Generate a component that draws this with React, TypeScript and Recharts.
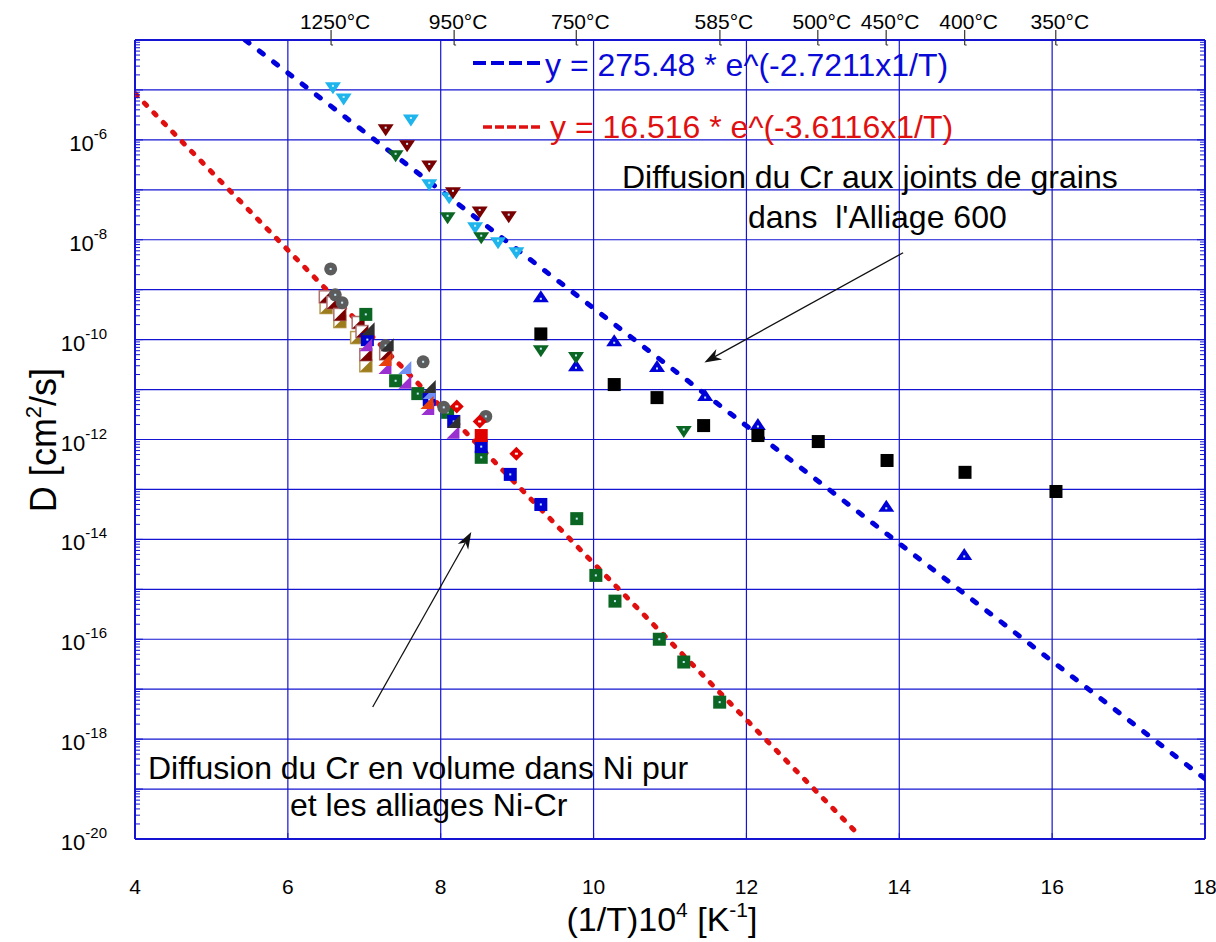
import React from "react";
import { ScatterChart, Scatter, XAxis, YAxis, ReferenceLine } from "recharts";

const FONT = "'Liberation Sans', Arial, Helvetica, sans-serif";
const W = 1216;
const H = 942;
const AXIS_BLUE = "#1414d2";

// axes
const xTicks = [4, 6, 8, 10, 12, 14, 16, 18];
const xGridLines = [6, 8, 10, 12, 14, 16];
const decades = [-20, -19, -18, -17, -16, -15, -14, -13, -12, -11, -10, -9, -8, -7, -6, -5, -4];
const labelledDecades = [-20, -18, -16, -14, -12, -10, -8, -6];
const mantissas = [1, 2, 3, 4, 5, 6, 7, 8, 9];
const tempLabelsC = [1250, 950, 750, 585, 500, 450, 400, 350];

// Joints de grains (Alliage 600)
const gbCyanX = [6.59, 6.73, 7.61, 7.85, 8.11, 8.45, 8.75, 8.99];
const gbCyanY = [1.1e-5, 6.6e-6, 2.5e-6, 1.26e-7, 6.9e-8, 1.74e-8, 8.7e-9, 5.5e-9];
const gbDarkRedX = [7.28, 7.56, 7.85, 8.16, 8.51, 8.89];
const gbDarkRedY = [1.6e-6, 7.6e-7, 3.0e-7, 8.7e-8, 3.6e-8, 2.9e-8];
const gbGreenX = [7.41, 8.09, 8.53, 9.31, 9.77, 11.18];
const gbGreenY = [4.8e-7, 2.75e-8, 1.1e-8, 6.0e-11, 4.4e-11, 1.45e-12];
const gbBlueX = [9.31, 9.77, 10.27, 10.83, 11.46, 12.15, 13.83, 14.85];
const gbBlueY = [7.2e-10, 3.0e-11, 9.5e-11, 2.9e-11, 7.6e-12, 2.0e-12, 4.6e-14, 5.0e-15];
const gbBlackX = [9.31, 10.27, 10.83, 11.44, 12.15, 12.94, 13.84, 14.86, 16.05];
const gbBlackY = [1.3e-10, 1.26e-11, 6.9e-12, 1.9e-12, 1.2e-12, 9.1e-13, 3.8e-13, 2.2e-13, 9.1e-14];

// Volume (Ni pur et alliages Ni-Cr)
const volOliveX = [6.5, 6.68, 6.9, 7.02];
const volOliveY = [4.4e-10, 2.3e-10, 1.1e-10, 3.0e-11];
const volDarkRedX = [6.49, 6.59, 6.68, 6.92, 6.97, 7.02, 7.28];
const volDarkRedY = [7.2e-10, 5.5e-10, 3.2e-10, 2.2e-10, 1.45e-10, 5.0e-11, 5.2e-11];
const volGreyX = [6.56, 6.62, 6.71, 7.28, 7.77, 8.04, 8.59];
const volGreyY = [2.6e-9, 7.9e-10, 5.5e-10, 7.6e-11, 3.6e-11, 4.4e-12, 2.9e-12];
const volGreenX = [7.02, 7.41, 7.7, 8.09, 8.53, 9.78, 10.03, 10.28, 10.86, 11.18, 11.65];
const volGreenY = [3.2e-10, 1.5e-11, 8.3e-12, 3.5e-12, 4.4e-13, 2.6e-14, 1.9e-15, 5.8e-16, 1.0e-16, 3.5e-17, 5.5e-18];
const volBlueX = [7.04, 7.85, 8.17, 8.53, 8.91, 9.31];
const volBlueY = [1.0e-10, 6.3e-12, 2.3e-12, 7.2e-13, 2.0e-13, 5.0e-14];
const volPurpleX = [7.02, 7.27, 7.53, 7.83, 8.16];
const volPurpleY = [7.9e-11, 2.75e-11, 1.4e-11, 4.2e-12, 1.4e-12];
const volCornflowerX = [7.53, 7.85];
const volCornflowerY = [2.75e-11, 8.7e-12];
const volOrangeX = [7.27, 7.82];
const volOrangeY = [4.0e-11, 5.5e-12];
const volDarkGreyX = [7.05, 7.3, 7.85, 8.17];
const volDarkGreyY = [1.66e-10, 7.9e-11, 1.15e-11, 2.3e-12];
const volRedSqX = [8.53];
const volRedSqY = [1.2e-12];
const volRedDiamondX = [8.21, 8.51, 8.99];
const volRedDiamondY = [4.6e-12, 2.3e-12, 5.2e-13];

// fits (end points read on the plot)
const blueFitX = [5.44, 18];
const blueFitY = [1e-4, 1.6e-19];
const redFitX = [4, 13.45];
const redFitY = [8.5e-6, 1.3e-20];

// arrows: [from, to]
const arrowGbX = [14.05, 11.45];
const arrowGbY = [5.5e-9, 3.5e-11];
const arrowVolX = [7.11, 8.4];
const arrowVolY = [4.4e-18, 1.4e-14];

const pts = (xs: number[], ys: number[]) => xs.map((x, i) => ({ x, y: ys[i] }));

const yTickValues = decades.flatMap((e) =>
  e === -4 ? [Math.pow(10, e)] : mantissas.map((m) => m * Math.pow(10, e))
);
const tempPositions = tempLabelsC.map((t) => 1e4 / (t + 273.15));

// ---- marker shapes
const centreDot = (cx: number, cy: number) => (
  <rect x={cx - 1} y={cy - 1} width={2} height={2} fill="#c8ecff" />
);
const downTri = (fill: string) => (p: any) => {
  const { cx, cy } = p;
  return (
    <g>
      <polygon points={`${cx - 8},${cy - 5.5} ${cx + 8},${cy - 5.5} ${cx},${cy + 6.5}`} fill={fill} />
      {centreDot(cx, cy - 2)}
    </g>
  );
};
const upTri = (fill: string) => (p: any) => {
  const { cx, cy } = p;
  return (
    <g>
      <polygon points={`${cx - 8},${cy + 5.5} ${cx + 8},${cy + 5.5} ${cx},${cy - 6.5}`} fill={fill} />
      {centreDot(cx, cy + 2)}
    </g>
  );
};
const square = (fill: string, dot = true) => (p: any) => {
  const { cx, cy } = p;
  return (
    <g>
      <rect x={cx - 6.5} y={cy - 6.5} width={13} height={13} fill={fill} />
      {dot && centreDot(cx, cy)}
    </g>
  );
};
const disc = (fill: string) => (p: any) => {
  const { cx, cy } = p;
  return (
    <g>
      <circle cx={cx} cy={cy} r={6.5} fill={fill} />
      {centreDot(cx, cy)}
    </g>
  );
};
const diamond = (fill: string) => (p: any) => {
  const { cx, cy } = p;
  return (
    <g>
      <polygon points={`${cx},${cy - 7} ${cx + 7},${cy} ${cx},${cy + 7} ${cx - 7},${cy}`} fill={fill} />
      <rect x={cx - 1.5} y={cy - 1} width={3} height={2} fill="#ffffff" />
    </g>
  );
};
const halfSquare = (fill: string, edge: string) => (p: any) => {
  const { cx, cy } = p;
  return (
    <g>
      <rect x={cx - 6} y={cy - 6} width={12} height={12} fill="#ffffff" stroke={edge} strokeWidth={1.5} />
      <polygon points={`${cx - 6},${cy + 6} ${cx + 6},${cy - 6} ${cx + 6},${cy + 6}`} fill={fill} />
    </g>
  );
};
const halfTri = (fill: string) => (p: any) => {
  const { cx, cy } = p;
  return <polygon points={`${cx - 6.5},${cy + 6.5} ${cx + 6.5},${cy - 6.5} ${cx + 6.5},${cy + 6.5}`} fill={fill} />;
};
const noMarker = () => <g />;

// ---- axis ticks
const isDecade = (v: number) => Math.abs(Math.log10(v) - Math.round(Math.log10(v))) < 1e-6;

const LeftTick = (props: any) => {
  const { x, y, payload } = props;
  const v = payload.value;
  const major = isDecade(v);
  const e = Math.round(Math.log10(v));
  return (
    <g>
      <line x1={x} x2={x + (major ? 8 : 5)} y1={y} y2={y} stroke={AXIS_BLUE} strokeWidth={1} />
      {major && labelledDecades.includes(e) && (
        <text x={107} y={y + 11} textAnchor="end" fontSize={22} fontFamily={FONT} fill="#000">
          10
          <tspan dy={-12} fontSize={15}>{e}</tspan>
        </text>
      )}
    </g>
  );
};

const RightTick = (props: any) => {
  const { x, y, payload } = props;
  const major = isDecade(payload.value);
  return <line x1={x} x2={x - (major ? 8 : 5)} y1={y} y2={y} stroke={AXIS_BLUE} strokeWidth={1} />;
};

const BottomTick = (props: any) => {
  const { x, y, payload } = props;
  const v = payload.value;
  return (
    <g>
      {v > 4 && v < 18 && <line x1={x} x2={x} y1={y} y2={y - 6} stroke={AXIS_BLUE} />}
      <text x={x} y={y + 55} textAnchor="middle" fontSize={21} fontFamily={FONT} fill="#000">
        {v}
      </text>
    </g>
  );
};

const TopTick = (props: any) => {
  const { x, y, payload } = props;
  const t = Math.round(1e4 / payload.value - 273.15);
  return (
    <g>
      <line x1={x} x2={x} y1={y - 10} y2={y + 5} stroke="#333" strokeWidth={1.2} />
      <line x1={x} x2={x + 2} y1={y + 5} y2={y + 5} stroke="#333" strokeWidth={1} />
      <text x={x + 4} y={y - 11} textAnchor="middle" fontSize={21} fontFamily={FONT} fill="#000">
        {t}°C
      </text>
    </g>
  );
};

const ArrowShape = (props: any) => {
  const { x1, y1, x2, y2 } = props;
  const a = Math.atan2(y2 - y1, x2 - x1);
  const L = 17;
  const Wd = 6;
  const c = Math.cos(a);
  const s = Math.sin(a);
  const bx = x2 - L * c;
  const by = y2 - L * s;
  const nx = x2 - 0.7 * L * c;
  const ny = y2 - 0.7 * L * s;
  return (
    <g>
      <line x1={x1} y1={y1} x2={nx} y2={ny} stroke="#111" strokeWidth={1.3} />
      <polygon
        points={`${x2},${y2} ${bx - Wd * s},${by + Wd * c} ${nx},${ny} ${bx + Wd * s},${by - Wd * c}`}
        fill="#111"
      />
    </g>
  );
};

export default function App() {
  return (
    <div style={{ position: "absolute", left: 0, top: 0, width: W, height: H, background: "#fff" }}>
      <ScatterChart width={W} height={H} margin={{ top: 0, right: 0, bottom: 0, left: 0 }}>
        <XAxis
          dataKey="x"
          type="number"
          domain={[4, 18]}
          ticks={xTicks}
          interval={0}
          height={103}
          tickSize={0}
          tickMargin={0}
          tick={<BottomTick />}
          axisLine={{ stroke: AXIS_BLUE, strokeWidth: 2 }}
          allowDataOverflow
        />
        <XAxis
          xAxisId="top"
          orientation="top"
          dataKey="x"
          type="number"
          domain={[4, 18]}
          ticks={tempPositions}
          interval={0}
          height={40}
          tickSize={0}
          tickMargin={0}
          tick={<TopTick />}
          axisLine={{ stroke: AXIS_BLUE, strokeWidth: 2 }}
          allowDataOverflow
        />
        <YAxis
          dataKey="y"
          type="number"
          scale="log"
          domain={[1e-20, 1e-4]}
          ticks={yTickValues}
          interval={0}
          width={135}
          tickSize={0}
          tickMargin={0}
          tick={<LeftTick />}
          axisLine={{ stroke: AXIS_BLUE, strokeWidth: 2 }}
          allowDataOverflow
        />
        <YAxis
          yAxisId="right"
          orientation="right"
          dataKey="y"
          type="number"
          scale="log"
          domain={[1e-20, 1e-4]}
          ticks={yTickValues}
          interval={0}
          width={11}
          tickSize={0}
          tickMargin={0}
          tick={<RightTick />}
          axisLine={{ stroke: AXIS_BLUE, strokeWidth: 2 }}
          allowDataOverflow
        />

        {xGridLines.map((v) => (
          <ReferenceLine key={`gx${v}`} x={v} stroke={AXIS_BLUE} strokeWidth={1.2} />
        ))}
        {decades.slice(1, -1).map((e) => (
          <ReferenceLine key={`gy${e}`} y={Math.pow(10, e)} stroke={AXIS_BLUE} strokeWidth={1.2} />
        ))}

        <Scatter
          data={pts(blueFitX, blueFitY)}
          shape={noMarker}
          line={{ stroke: "#0000dc", strokeWidth: 5, strokeDasharray: "5 13", strokeLinecap: "round" }}
          isAnimationActive={false}
        />
        <Scatter
          data={pts(redFitX, redFitY)}
          shape={noMarker}
          line={{ stroke: "#e01010", strokeWidth: 5, strokeDasharray: "3 10.5", strokeLinecap: "round" }}
          isAnimationActive={false}
        />

        <Scatter data={pts(gbCyanX, gbCyanY)} shape={downTri("#1eb4ec")} isAnimationActive={false} />
        <Scatter data={pts(gbDarkRedX, gbDarkRedY)} shape={downTri("#780000")} isAnimationActive={false} />
        <Scatter data={pts(gbBlueX, gbBlueY)} shape={upTri("#0000d8")} isAnimationActive={false} />
        <Scatter data={pts(gbGreenX, gbGreenY)} shape={downTri("#0b6623")} isAnimationActive={false} />
        <Scatter data={pts(gbBlackX, gbBlackY)} shape={square("#000000", false)} isAnimationActive={false} />

        <Scatter data={pts(volOliveX, volOliveY)} shape={halfSquare("#9c7c1c", "#b89a50")} isAnimationActive={false} />
        <Scatter data={pts(volDarkRedX, volDarkRedY)} shape={halfSquare("#7a0000", "#b07070")} isAnimationActive={false} />
        <Scatter data={pts(volGreenX, volGreenY)} shape={square("#0b6623")} isAnimationActive={false} />
        <Scatter data={pts(volGreyX, volGreyY)} shape={disc("#5c5c5c")} isAnimationActive={false} />
        <Scatter data={pts(volBlueX, volBlueY)} shape={square("#0000d0")} isAnimationActive={false} />
        <Scatter data={pts(volPurpleX, volPurpleY)} shape={halfTri("#9a30d0")} isAnimationActive={false} />
        <Scatter data={pts(volCornflowerX, volCornflowerY)} shape={halfTri("#6f8ff5")} isAnimationActive={false} />
        <Scatter data={pts(volOrangeX, volOrangeY)} shape={halfTri("#e8400c")} isAnimationActive={false} />
        <Scatter data={pts(volDarkGreyX, volDarkGreyY)} shape={halfTri("#303030")} isAnimationActive={false} />
        <Scatter data={pts(volRedSqX, volRedSqY)} shape={square("#e00000", false)} isAnimationActive={false} />
        <Scatter data={pts(volRedDiamondX, volRedDiamondY)} shape={diamond("#e00000")} isAnimationActive={false} />

        <ReferenceLine
          segment={pts(arrowGbX, arrowGbY)}
          shape={ArrowShape}
          ifOverflow="visible"
        />
        <ReferenceLine
          segment={pts(arrowVolX, arrowVolY)}
          shape={ArrowShape}
          ifOverflow="visible"
        />
      </ScatterChart>

      <svg
        width={W}
        height={H}
        style={{ position: "absolute", left: 0, top: 0, pointerEvents: "none" }}
        fontFamily={FONT}
      >
        <line x1={473} x2={542} y1={63} y2={63} stroke="#0000dc" strokeWidth={4} strokeDasharray="13 5" />
        <text x={545} y={76} fontSize={32} fill="#0a0ad8">
          y = 275.48 * e^(-2.7211x1/T)
        </text>
        <line x1={483} x2={542} y1={127} y2={127} stroke="#e01010" strokeWidth={3.5} strokeDasharray="9 3" />
        <text x={550} y={138} fontSize={32} fill="#e01010">
          y = 16.516 * e^(-3.6116x1/T)
        </text>

        <text x={622} y={188} fontSize={32} fill="#000">
          Diffusion du Cr aux joints de grains
        </text>
        <text x={748} y={228} fontSize={32} fill="#000" style={{ whiteSpace: "pre" }}>
          {"dans  l'Alliage 600"}
        </text>
        <text x={148} y={779} fontSize={32} fill="#000">
          Diffusion du Cr en volume dans Ni pur
        </text>
        <text x={290} y={816} fontSize={32} fill="#000">
          et les alliages Ni-Cr
        </text>

        <text x={662} y={931} fontSize={34} fill="#000" textAnchor="middle">
          (1/T)10
          <tspan dy={-14} fontSize={21}>4</tspan>
          <tspan dy={14}> [K</tspan>
          <tspan dy={-14} fontSize={21}>-1</tspan>
          <tspan dy={14}>]</tspan>
        </text>
        <text x={56} y={440} fontSize={36} fill="#000" textAnchor="middle" transform="rotate(-90 56 440)">
          D [cm
          <tspan dy={-15} fontSize={22}>2</tspan>
          <tspan dy={15}>/s]</tspan>
        </text>
      </svg>
    </div>
  );
}
